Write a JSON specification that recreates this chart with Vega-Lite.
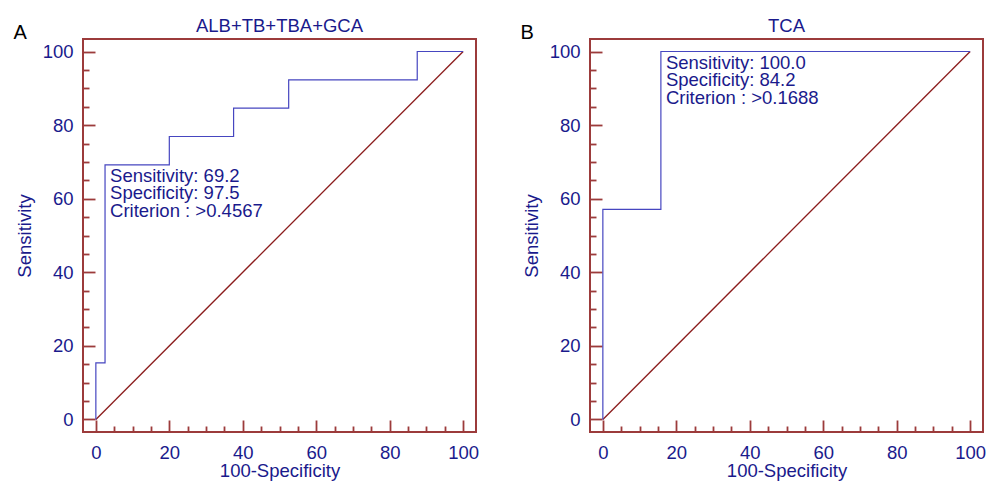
{
  "$schema": "https://vega.github.io/schema/vega-lite/v6.json",
  "background": "white",
  "padding": {"left": 12, "top": 15, "right": 5, "bottom": 0},
  "spacing": 114,
  "bounds": "flush",
  "config": {
    "font": "Liberation Sans",
    "view": {"stroke": "#9c3b3b", "strokeWidth": 2},
    "axis": {
      "domain": false,
      "grid": false,
      "tickColor": "#9c3b3b",
      "tickWidth": 1.8,
      "labelColor": "#1a1a8c",
      "labelFontSize": 18.5,
      "labelFont": "Liberation Sans",
      "titleColor": "#1a1a8c",
      "titleFontSize": 18.5,
      "titleFontWeight": "normal",
      "titleFont": "Liberation Sans"
    },
    "axisX": {"labelPadding": 23, "titlePadding": 0},
    "axisY": {"labelPadding": 22, "titlePadding": 8},
    "title": {"font": "Liberation Sans", "fontSize": 18.5, "fontWeight": "normal", "color": "#1a1a8c", "offset": -13}
  },
  "datasets": {
    "diag": [{"i": 0, "x": 0, "y": 0}, {"i": 1, "x": 100, "y": 100}],
    "rocA": [
      {"i": 0, "x": 0, "y": 0},
      {"i": 1, "x": 0, "y": 15.4},
      {"i": 2, "x": 2.5, "y": 15.4},
      {"i": 3, "x": 2.5, "y": 69.2},
      {"i": 4, "x": 20, "y": 69.2},
      {"i": 5, "x": 20, "y": 76.9},
      {"i": 6, "x": 37.5, "y": 76.9},
      {"i": 7, "x": 37.5, "y": 84.6},
      {"i": 8, "x": 52.5, "y": 84.6},
      {"i": 9, "x": 52.5, "y": 92.3},
      {"i": 10, "x": 87.5, "y": 92.3},
      {"i": 11, "x": 87.5, "y": 100},
      {"i": 12, "x": 100, "y": 100}
    ],
    "rocB": [
      {"i": 0, "x": 0, "y": 0},
      {"i": 1, "x": 0, "y": 57.1},
      {"i": 2, "x": 15.8, "y": 57.1},
      {"i": 3, "x": 15.8, "y": 100},
      {"i": 4, "x": 100, "y": 100}
    ],
    "labA": [{"x": 2.5, "y": 69.2, "t": ["Sensitivity: 69.2", "Specificity: 97.5", "Criterion : >0.4567"]}],
    "labB": [{"x": 15.8, "y": 100, "t": ["Sensitivity: 100.0", "Specificity: 84.2", "Criterion : >0.1688"]}]
  },
  "hconcat": [
    {
      "width": 393,
      "height": 393,
      "title": {"text": "ALB+TB+TBA+GCA"},
      "resolve": {"axis": {"x": "independent"}},
      "layer": [
        {
          "data": {"name": "diag"},
          "mark": {"type": "line", "color": "#8b1c1c", "strokeWidth": 1.3},
          "encoding": {
            "x": {"field": "x", "type": "quantitative", "scale": {"domain": [-3.5, 103.5], "nice": false, "zero": false},
              "axis": {"orient": "top", "labels": false, "ticks": false, "domain": false, "title": "A", "titleColor": "black", "titleFontSize": 20, "titleAlign": "left", "titleBaseline": "alphabetic", "titleAnchor": "start", "titleX": -70, "titleY": -1}},
            "y": {"field": "y", "type": "quantitative", "scale": {"domain": [-3.4, 103.4], "nice": false, "zero": false},
              "axis": {"values": [0,5,10,15,20,25,30,35,40,45,50,55,60,65,70,75,80,85,90,95,100],
                "labelExpr": "datum.value % 20 === 0 ? datum.label : ''",
                "tickSize": {"condition": {"test": "datum.value % 20 === 0", "value": -12}, "value": -6},
                "title": "Sensitivity"}},
            "order": {"field": "i"}
          }
        },
        {
          "data": {"name": "rocA"},
          "mark": {"type": "line", "color": "#4646c0", "strokeWidth": 1.2},
          "encoding": {
            "x": {"field": "x", "type": "quantitative",
              "axis": {"orient": "bottom", "values": [0,5,10,15,20,25,30,35,40,45,50,55,60,65,70,75,80,85,90,95,100],
                "labelExpr": "datum.value % 20 === 0 ? datum.label : ''",
                "tickSize": {"condition": {"test": "datum.value % 20 === 0", "value": -12}, "value": -6},
                "title": "100-Specificity"}},
            "y": {"field": "y", "type": "quantitative",
              "axis": {"values": [0,5,10,15,20,25,30,35,40,45,50,55,60,65,70,75,80,85,90,95,100],
                "labelExpr": "datum.value % 20 === 0 ? datum.label : ''",
                "tickSize": {"condition": {"test": "datum.value % 20 === 0", "value": -12}, "value": -6},
                "title": "Sensitivity"}},
            "order": {"field": "i"}
          }
        },
        {
          "data": {"name": "labA"},
          "mark": {"type": "text", "color": "#1a1a8c", "fontSize": 18.5, "align": "left", "baseline": "top", "lineHeight": 17.5, "dx": 5, "dy": 2},
          "encoding": {
            "x": {"field": "x", "type": "quantitative", "axis": null},
            "y": {"field": "y", "type": "quantitative",
              "axis": {"values": [0,5,10,15,20,25,30,35,40,45,50,55,60,65,70,75,80,85,90,95,100],
                "labelExpr": "datum.value % 20 === 0 ? datum.label : ''",
                "tickSize": {"condition": {"test": "datum.value % 20 === 0", "value": -12}, "value": -6},
                "title": "Sensitivity"}},
            "text": {"field": "t"}
          }
        }
      ]
    },
    {
      "width": 393,
      "height": 393,
      "title": {"text": "TCA"},
      "resolve": {"axis": {"x": "independent"}},
      "layer": [
        {
          "data": {"name": "diag"},
          "mark": {"type": "line", "color": "#8b1c1c", "strokeWidth": 1.3},
          "encoding": {
            "x": {"field": "x", "type": "quantitative", "scale": {"domain": [-3.5, 103.5], "nice": false, "zero": false},
              "axis": {"orient": "top", "labels": false, "ticks": false, "domain": false, "title": "B", "titleColor": "black", "titleFontSize": 20, "titleAlign": "left", "titleBaseline": "alphabetic", "titleAnchor": "start", "titleX": -70, "titleY": -1}},
            "y": {"field": "y", "type": "quantitative", "scale": {"domain": [-3.4, 103.4], "nice": false, "zero": false},
              "axis": {"values": [0,5,10,15,20,25,30,35,40,45,50,55,60,65,70,75,80,85,90,95,100],
                "labelExpr": "datum.value % 20 === 0 ? datum.label : ''",
                "tickSize": {"condition": {"test": "datum.value % 20 === 0", "value": -12}, "value": -6},
                "title": "Sensitivity"}},
            "order": {"field": "i"}
          }
        },
        {
          "data": {"name": "rocB"},
          "mark": {"type": "line", "color": "#4646c0", "strokeWidth": 1.2},
          "encoding": {
            "x": {"field": "x", "type": "quantitative",
              "axis": {"orient": "bottom", "values": [0,5,10,15,20,25,30,35,40,45,50,55,60,65,70,75,80,85,90,95,100],
                "labelExpr": "datum.value % 20 === 0 ? datum.label : ''",
                "tickSize": {"condition": {"test": "datum.value % 20 === 0", "value": -12}, "value": -6},
                "title": "100-Specificity"}},
            "y": {"field": "y", "type": "quantitative",
              "axis": {"values": [0,5,10,15,20,25,30,35,40,45,50,55,60,65,70,75,80,85,90,95,100],
                "labelExpr": "datum.value % 20 === 0 ? datum.label : ''",
                "tickSize": {"condition": {"test": "datum.value % 20 === 0", "value": -12}, "value": -6},
                "title": "Sensitivity"}},
            "order": {"field": "i"}
          }
        },
        {
          "data": {"name": "labB"},
          "mark": {"type": "text", "color": "#1a1a8c", "fontSize": 18.5, "align": "left", "baseline": "top", "lineHeight": 17.5, "dx": 5, "dy": 2},
          "encoding": {
            "x": {"field": "x", "type": "quantitative", "axis": null},
            "y": {"field": "y", "type": "quantitative",
              "axis": {"values": [0,5,10,15,20,25,30,35,40,45,50,55,60,65,70,75,80,85,90,95,100],
                "labelExpr": "datum.value % 20 === 0 ? datum.label : ''",
                "tickSize": {"condition": {"test": "datum.value % 20 === 0", "value": -12}, "value": -6},
                "title": "Sensitivity"}},
            "text": {"field": "t"}
          }
        }
      ]
    }
  ]
}
